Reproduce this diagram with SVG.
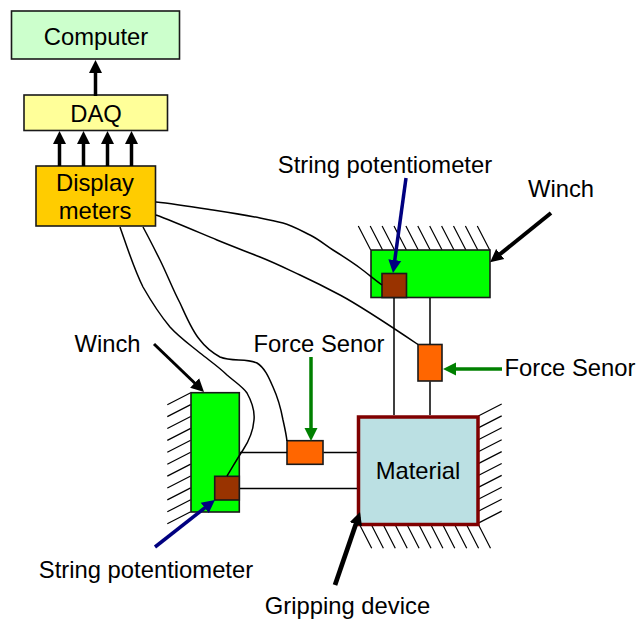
<svg xmlns="http://www.w3.org/2000/svg" width="637" height="619" viewBox="0 0 637 619">
<style>
text{font-family:"Liberation Sans",Arial,sans-serif;font-size:23.800px;fill:#000}
.m{text-anchor:middle}
.b{stroke:#1a1a1a;stroke-width:1.600}
.l{stroke:#000;stroke-width:1.500;fill:none}
.h{stroke:#000;stroke-width:1.200;fill:none}
.a{fill:none;stroke-width:3.500}
</style>
<defs>
<marker id="hk" markerUnits="userSpaceOnUse" markerWidth="14" markerHeight="14" refX="8" refY="7" orient="auto"><path d="M0 .5L13 7L0 13.500z" fill="#000"/></marker>
<marker id="hb" markerUnits="userSpaceOnUse" markerWidth="14" markerHeight="14" refX="8" refY="7" orient="auto"><path d="M0 .5L13 7L0 13.500z" fill="#000080"/></marker>
<marker id="hg" markerUnits="userSpaceOnUse" markerWidth="14" markerHeight="14" refX="8" refY="7" orient="auto"><path d="M0 .5L13 7L0 13.500z" fill="#008000"/></marker>
</defs>
<g id="hatching" class="h">
<path d="M358.300 226L370.700 250M370.200 226L382.600 250M382.100 226L394.500 250M394 226L406.400 250M405.900 226L418.300 250M417.800 226L430.200 250M429.700 226L442.100 250M441.600 226L454 250M453.500 226L465.900 250M465.400 226L477.800 250M477.300 226L489.700 250"/>
<path d="M190.700 392.700L167.300 404.700M190.700 404.600L167.300 416.600M190.700 416.500L167.300 428.500M190.700 428.400L167.300 440.400M190.700 440.300L167.300 452.300M190.700 452.200L167.300 464.200M190.700 464.100L167.300 476.100M190.700 476L167.300 488M190.700 487.900L167.300 499.900M190.700 499.800L167.300 511.800M190.700 511.700L167.300 523.700"/>
<path d="M478.300 416L501.700 404M478.300 427.900L501.700 415.900M478.300 439.800L501.700 427.800M478.300 451.700L501.700 439.700M478.300 463.600L501.700 451.600M478.300 475.500L501.700 463.500M478.300 487.400L501.700 475.400M478.300 499.300L501.700 487.300M478.300 511.200L501.700 499.200M478.300 523.100L501.700 511.100"/>
<path d="M359.300 524L371.700 548.300M371 524L383.400 548.300M382.900 524L395.300 548.300M394.800 524L407.200 548.300M406.700 524L419.100 548.300M418.600 524L431 548.300M430.500 524L442.900 548.300M442.400 524L454.800 548.300M454.300 524L466.700 548.300M466.200 524L478.600 548.300M478.100 524L490.500 548.300"/>
</g>
<g id="computer"><rect class="b" x="11.500" y="11" width="168" height="48" fill="#CCFFCC"/><text class="m" x="96" y="45">Computer</text></g>
<g id="daq"><rect class="b" x="24" y="95" width="143.500" height="35.500" fill="#FFFF99"/><text class="m" x="96" y="122">DAQ</text></g>
<g id="display-meters"><rect class="b" x="36" y="166" width="119.500" height="60" fill="#FFCC00"/><text class="m" x="95" y="191">Display</text><text class="m" x="95" y="219">meters</text></g>
<g id="winch-top"><rect class="b" x="371" y="250" width="119" height="47.500" fill="#00FF00"/></g>
<g id="pot-top"><rect class="b" x="382" y="273.500" width="24.500" height="24" fill="#993300"/></g>
<g id="force-right"><rect class="b" x="418" y="344.500" width="24" height="36.500" fill="#FF6600"/></g>
<g id="winch-left"><rect class="b" x="191" y="392.700" width="48.300" height="119.300" fill="#00FF00"/></g>
<g id="pot-left"><rect class="b" x="214.700" y="476.300" width="24.600" height="23.700" fill="#993300"/></g>
<g id="force-left"><rect class="b" x="287" y="440.700" width="36" height="23.600" fill="#FF6600"/></g>
<g id="material"><rect x="358.500" y="417" width="119.500" height="107.500" fill="#BBE0E3" stroke="#800000" stroke-width="3.500"/><text class="m" x="418" y="479">Material</text></g>
<g id="connectors">
<path class="l" d="M394 298V415M430 298V344M430 381.500V415M240 452.500H287M323.500 452.500H357M240 488.500H357"/>
<path class="l" d="M156 202C175 204 200 208 213 210S250 216 260 218S275 221 283 223S300 230 310 235S325 245 333 250S352 262 360 268S375 280 382 285"/>
<path class="l" d="M156 215C175 222 200 233 217 240S245 251 260 257S285 268 300 275S325 287 340 295S395 329 418 344.500"/>
<path class="l" d="M120 227C127 247 134 269 143 287C151 301 160 315 170 327C179 337 189 344 200 353C210 361 219 367 227 375C235 382 243 387 247 393C252 402 255 410 254 420C253 432 249 441 243 450C237 459 232 468 227 476"/>
<path class="l" d="M143 227C149 238 155 250 160 260C167 274 173 290 180 303C186 316 192 331 200 340C206 348 213 353 220 357C232 362 246 358 257 363C265 368 269 378 273 387C278 398 281 409 283 420C285 429 286 433 287 441"/>
<g class="a">
<path d="M95.500 96V65" stroke="#000" marker-end="url(#hk)"/>
<path d="M59.500 166V136" stroke="#000" marker-end="url(#hk)"/>
<path d="M83.500 166V136" stroke="#000" marker-end="url(#hk)"/>
<path d="M107.500 166V136" stroke="#000" marker-end="url(#hk)"/>
<path d="M131.500 166V136" stroke="#000" marker-end="url(#hk)"/>
<path d="M406 178L393.700 268" stroke="#000080" marker-end="url(#hb)"/>
<path d="M155 547L211 503" stroke="#000080" marker-end="url(#hb)"/>
<path d="M311 357V436" stroke="#008000" marker-end="url(#hg)"/>
<path d="M502 369H448" stroke="#008000" marker-end="url(#hg)"/>
<path d="M551 213L494 259" stroke="#000" stroke-width="4" marker-end="url(#hk)"/>
<path d="M154 344L200.400 388.500" stroke="#000" stroke-width="3" marker-end="url(#hk)"/>
<path d="M335 585L358.400 516.700" stroke="#000" stroke-width="4.700" marker-end="url(#hk)"/>
</g>
</g>
<g id="labels">
<text class="m" x="385" y="173">String potentiometer</text>
<text class="m" x="561" y="197">Winch</text>
<text class="m" x="570" y="376">Force Senor</text>
<text class="m" x="319" y="352">Force Senor</text>
<text class="m" x="107.500" y="352">Winch</text>
<text class="m" x="146" y="578">String potentiometer</text>
<text class="m" x="347.500" y="614">Gripping device</text>
</g>
</svg>
